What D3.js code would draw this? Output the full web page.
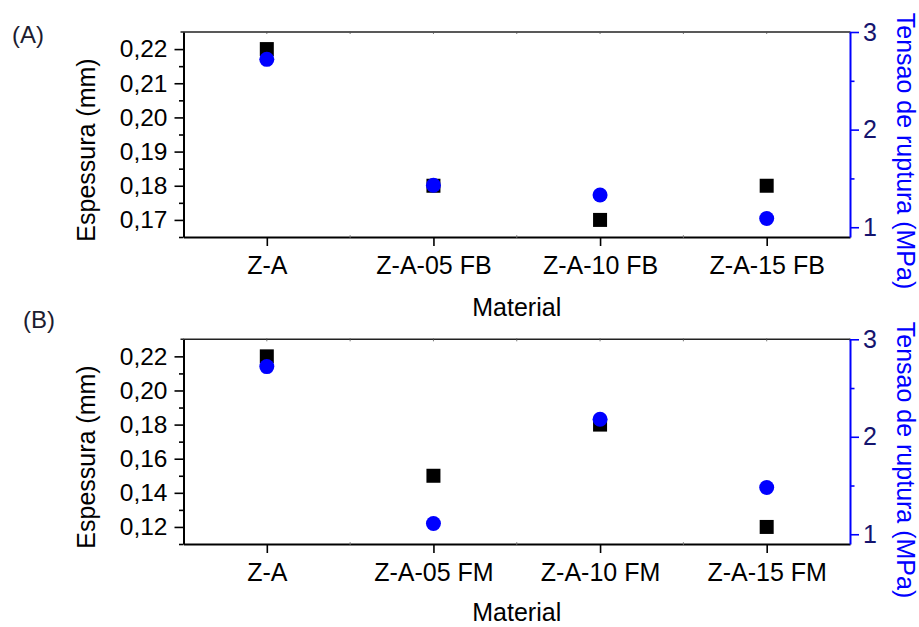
<!DOCTYPE html>
<html>
<head>
<meta charset="utf-8">
<script src="https://cdn.jsdelivr.net/npm/d3@7"></script>
<style>
    body { margin: 0; background: #fff; }
    svg text { font-family: "Liberation Sans", Arial, sans-serif; }
</style>
</head>
<body>
<svg id="chart" width="919" height="627"></svg>
<script>
// data
const categoriesA = ["Z-A", "Z-A-05 FB", "Z-A-10 FB", "Z-A-15 FB"];
const categoriesB = ["Z-A", "Z-A-05 FM", "Z-A-10 FM", "Z-A-15 FM"];

const espessuraA = [0.22, 0.18, 0.17, 0.18];
const tensaoA = [2.72, 1.43, 1.33, 1.09];

const espessuraB = [0.22, 0.15, 0.18, 0.12];
const tensaoB = [2.72, 1.11, 2.18, 1.48];

const leftTicksA = [0.17, 0.18, 0.19, 0.20, 0.21, 0.22];
const leftMinorA = [0.165, 0.175, 0.185, 0.195, 0.205, 0.215];
const leftTicksB = [0.12, 0.14, 0.16, 0.18, 0.20, 0.22];
const leftMinorB = [0.11, 0.13, 0.15, 0.17, 0.19, 0.21];
const rightTicks = [1, 2, 3];
const rightMinor = [1.5, 2.5];

const svg = d3.select("#chart");
const commaFormat = d => d3.format(".2f")(d).replace(".", ",");

/* one panel: frame, both y axes, the squares (espessura) and the circles (tensao) */
function drawPanel(p) {
    const left = 183.5, right = 850;
    const top = p.top, bottom = p.bottom;

    const xScale = d3.scaleLinear().domain([-0.5, 3.5]).range([left, right]);
    const yLeft = d3.scaleLinear().domain(p.leftDomain).range([bottom, top]);
    const yRight = d3.scaleLinear().domain([0.9, 3]).range([bottom, top]);

    const g = svg.append("g");

    // top frame line with tiny ticks
    g.append("line")
        .attr("x1", left - 3).attr("x2", right)
        .attr("y1", top).attr("y2", top)
        .style("stroke", "#222").style("stroke-width", 1.6);
    g.selectAll(".topTick")
        .data(d3.range(-0.5, 3.51, 0.5))
        .enter().append("line")
        .attr("x1", d => xScale(d)).attr("x2", d => xScale(d))
        .attr("y1", top - 1).attr("y2", top + 2)
        .style("stroke", "#555").style("stroke-width", 0.8);

    // bottom axis
    const xAxis = g.append("g")
        .attr("transform", `translate(0,${bottom})`)
        .call(d3.axisBottom(xScale)
            .tickValues([0, 1, 2, 3])
            .tickSize(9)
            .tickSizeOuter(0)
            .tickPadding(10)
            .tickFormat(i => p.categories[i]));
    xAxis.select(".domain").style("stroke", "#000").style("stroke-width", 2);
    xAxis.selectAll(".tick line").style("stroke", "#000").style("stroke-width", 1.6);
    xAxis.selectAll("text").style("font-size", "25px").style("fill", "#000");

    g.selectAll(".botMinor")
        .data([0.5, 1.5, 2.5])
        .enter().append("line")
        .attr("x1", d => xScale(d)).attr("x2", d => xScale(d))
        .attr("y1", bottom - 2).attr("y2", bottom + 1)
        .style("stroke", "#777").style("stroke-width", 0.8);

    // left axis
    const leftAxis = g.append("g")
        .attr("transform", `translate(${left},0)`)
        .call(d3.axisLeft(yLeft)
            .tickValues(p.leftTicks)
            .tickSize(9)
            .tickSizeOuter(0)
            .tickPadding(7)
            .tickFormat(commaFormat));
    leftAxis.select(".domain").style("stroke", "#000").style("stroke-width", 2);
    leftAxis.selectAll(".tick line").style("stroke", "#000").style("stroke-width", 1.6);
    leftAxis.selectAll("text").style("font-size", "24.5px").style("fill", "#000");

    g.append("g")
        .attr("transform", `translate(${left},0)`)
        .call(d3.axisLeft(yLeft).tickValues(p.leftMinor).tickSize(4.5).tickFormat(""))
        .call(a => a.select(".domain").remove())
        .selectAll(".tick line").style("stroke", "#000").style("stroke-width", 1.6);

    // right axis
    const rightAxis = g.append("g")
        .attr("transform", `translate(${right},0)`)
        .call(d3.axisRight(yRight)
            .tickValues(rightTicks)
            .tickSize(9)
            .tickSizeOuter(0)
            .tickPadding(4)
            .tickFormat(d3.format("d")));
    rightAxis.select(".domain").style("stroke", "#0000ff").style("stroke-width", 2);
    rightAxis.selectAll(".tick line").style("stroke", "#0000ff").style("stroke-width", 1.6);
    rightAxis.selectAll("text").style("font-size", "25px").style("fill", "#14146e");

    g.append("g")
        .attr("transform", `translate(${right},0)`)
        .call(d3.axisRight(yRight).tickValues(rightMinor).tickSize(4.5).tickFormat(""))
        .call(a => a.select(".domain").remove())
        .selectAll(".tick line").style("stroke", "#0000ff").style("stroke-width", 1.6);

    // squares then circles on top
    const size = 14;
    g.selectAll(".square")
        .data(p.espessura)
        .enter().append("rect")
        .attr("class", "square")
        .attr("x", (d, i) => xScale(i) - size / 2)
        .attr("y", d => yLeft(d) - size / 2)
        .attr("width", size)
        .attr("height", size)
        .style("fill", "#000");

    g.selectAll(".circle")
        .data(p.tensao)
        .enter().append("circle")
        .attr("class", "circle")
        .attr("cx", (d, i) => xScale(i))
        .attr("cy", d => yRight(d))
        .attr("r", 7.5)
        .style("fill", "#0000ff");

    // titles
    g.append("text")
        .attr("transform", `translate(95,${p.leftLabelY}) rotate(-90)`)
        .attr("text-anchor", "middle")
        .style("font-size", "25px")
        .text("Espessura (mm)");

    g.append("text")
        .attr("transform", `translate(897,${p.rightLabelY}) rotate(90)`)
        .attr("text-anchor", "middle")
        .style("font-size", "25px")
        .style("fill", "#0000ff")
        .text("Tensao de ruptura (MPa)");

    g.append("text")
        .attr("x", (left + right) / 2)
        .attr("y", p.materialY)
        .attr("text-anchor", "middle")
        .style("font-size", "25px")
        .text("Material");

    g.append("text")
        .attr("x", p.tagX)
        .attr("y", p.tagY)
        .style("font-size", "24px")
        .style("fill", "#1c1c30")
        .text(p.tag);
}

drawPanel({
    top: 32, bottom: 237,
    categories: categoriesA,
    espessura: espessuraA, tensao: tensaoA,
    leftDomain: [0.165, 0.225],
    leftTicks: leftTicksA, leftMinor: leftMinorA,
    leftLabelY: 150, rightLabelY: 151, materialY: 316,
    tag: "(A)", tagX: 12, tagY: 43
});

drawPanel({
    top: 339.3, bottom: 544,
    categories: categoriesB,
    espessura: espessuraB, tensao: tensaoB,
    leftDomain: [0.11, 0.23],
    leftTicks: leftTicksB, leftMinor: leftMinorB,
    leftLabelY: 457, rightLabelY: 460, materialY: 621,
    tag: "(B)", tagX: 23, tagY: 328
});
</script>
</body>
</html>
